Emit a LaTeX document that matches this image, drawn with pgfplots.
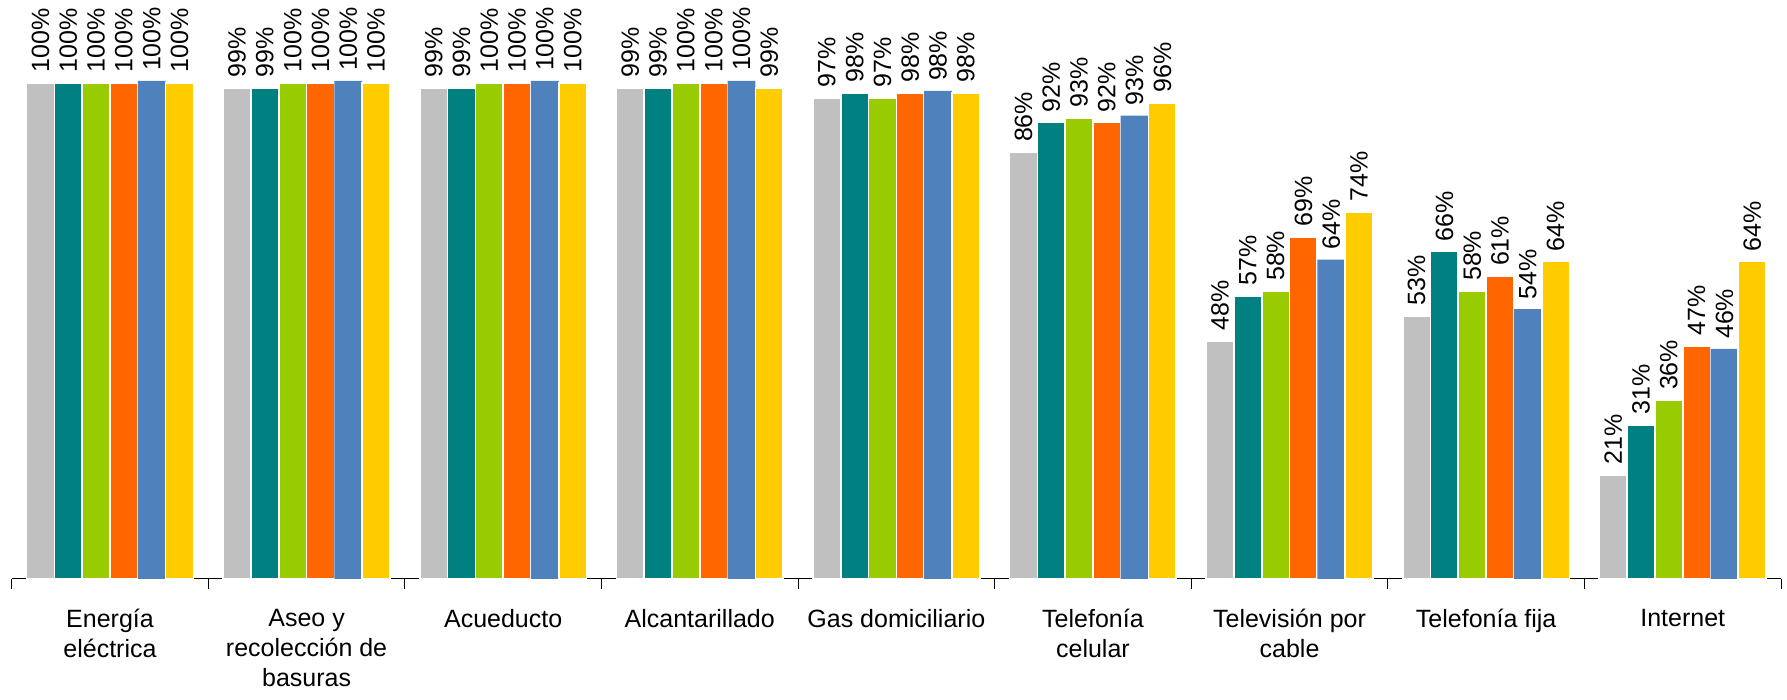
\documentclass[border=0pt]{standalone}
\usepackage{pgfplots}
\pgfplotsset{compat=1.18}
\usepackage{pgfplotstable}
\usepackage{fontspec}
\setmainfont{Liberation Sans}
\definecolor{cgray}{HTML}{C0C0C0}
\definecolor{cteal}{HTML}{008080}
\definecolor{cgreen}{HTML}{99CC00}
\definecolor{corange}{HTML}{FF6600}
\definecolor{cblue}{HTML}{4F81BD}
\definecolor{cyellow}{HTML}{FFCC00}

\pgfplotstableread{
x s1 s2 s3 s4 s5 s6
0 100 100 100 100 100.4 100
1 99 99 100 100 100.4 100
2 99 99 100 100 100.4 100
3 99 99 100 100 100.4 99
4 97 98 97 98 98.4 98
5 86 92 93 92 93.4 96
6 48 57 58 69 64.4 74
7 53 66 58 61 54.4 64
8 21 31 36 47 46.4 64
}\data

\begin{document}
\begin{tikzpicture}
\useasboundingbox (-5.85pt,-60.5pt) rectangle (887.75pt,289.5pt);
\begin{axis}[
  at={(0,0)}, anchor=south west,
  width=884.75pt, height=289.5pt, scale only axis,
  xmin=-0.5, xmax=8.5, ymin=0, ymax=116.73,
  ybar=0pt, bar width=13.9pt,
  axis x line*=bottom, axis y line=none,
  axis line style={black, line width=0.5pt},
  xtick={0,...,8},
  xticklabels={{Energía\\eléctrica},{Aseo y\\recolección de\\basuras},{Acueducto},{Alcantarillado},{Gas domiciliario},{Telefonía\\celular},{Televisión por\\cable},{Telefonía fija},{Internet}},
  major tick length=0pt,
  minor xtick={-0.5,0.5,...,8.5},
  minor tick length=5pt,
  xtick align=outside,
  minor tick style={black, line width=0.5pt},
  xticklabel style={font=\fontsize{12.5}{15}\selectfont, align=center, anchor=north, yshift=-11.6pt},
  /pgf/number format/assume math mode=true,
  nodes near coords={\pgfmathprintnumber[fixed,precision=0,assume math mode=true]{\pgfplotspointmeta}\%},
  every node near coord/.append style={rotate=90, anchor=west, font=\fontsize{12.5}{15}\selectfont, inner xsep=4.8pt, inner ysep=0pt, black},
  clip=false,
]
\addplot[fill=cgray, draw=white, line width=0.85pt] table[x=x,y=s1]{\data};
\addplot[fill=cteal, draw=white, line width=0.85pt] table[x=x,y=s2]{\data};
\addplot[fill=cgreen, draw=white, line width=0.85pt] table[x=x,y=s3]{\data};
\addplot[fill=corange, draw=white, line width=0.85pt] table[x=x,y=s4]{\data};
\addplot[fill=cblue, draw=none] table[x=x,y=s5]{\data};
\addplot[fill=cyellow, draw=white, line width=0.85pt] table[x=x,y=s6]{\data};
\end{axis}
\end{tikzpicture}
\end{document}
